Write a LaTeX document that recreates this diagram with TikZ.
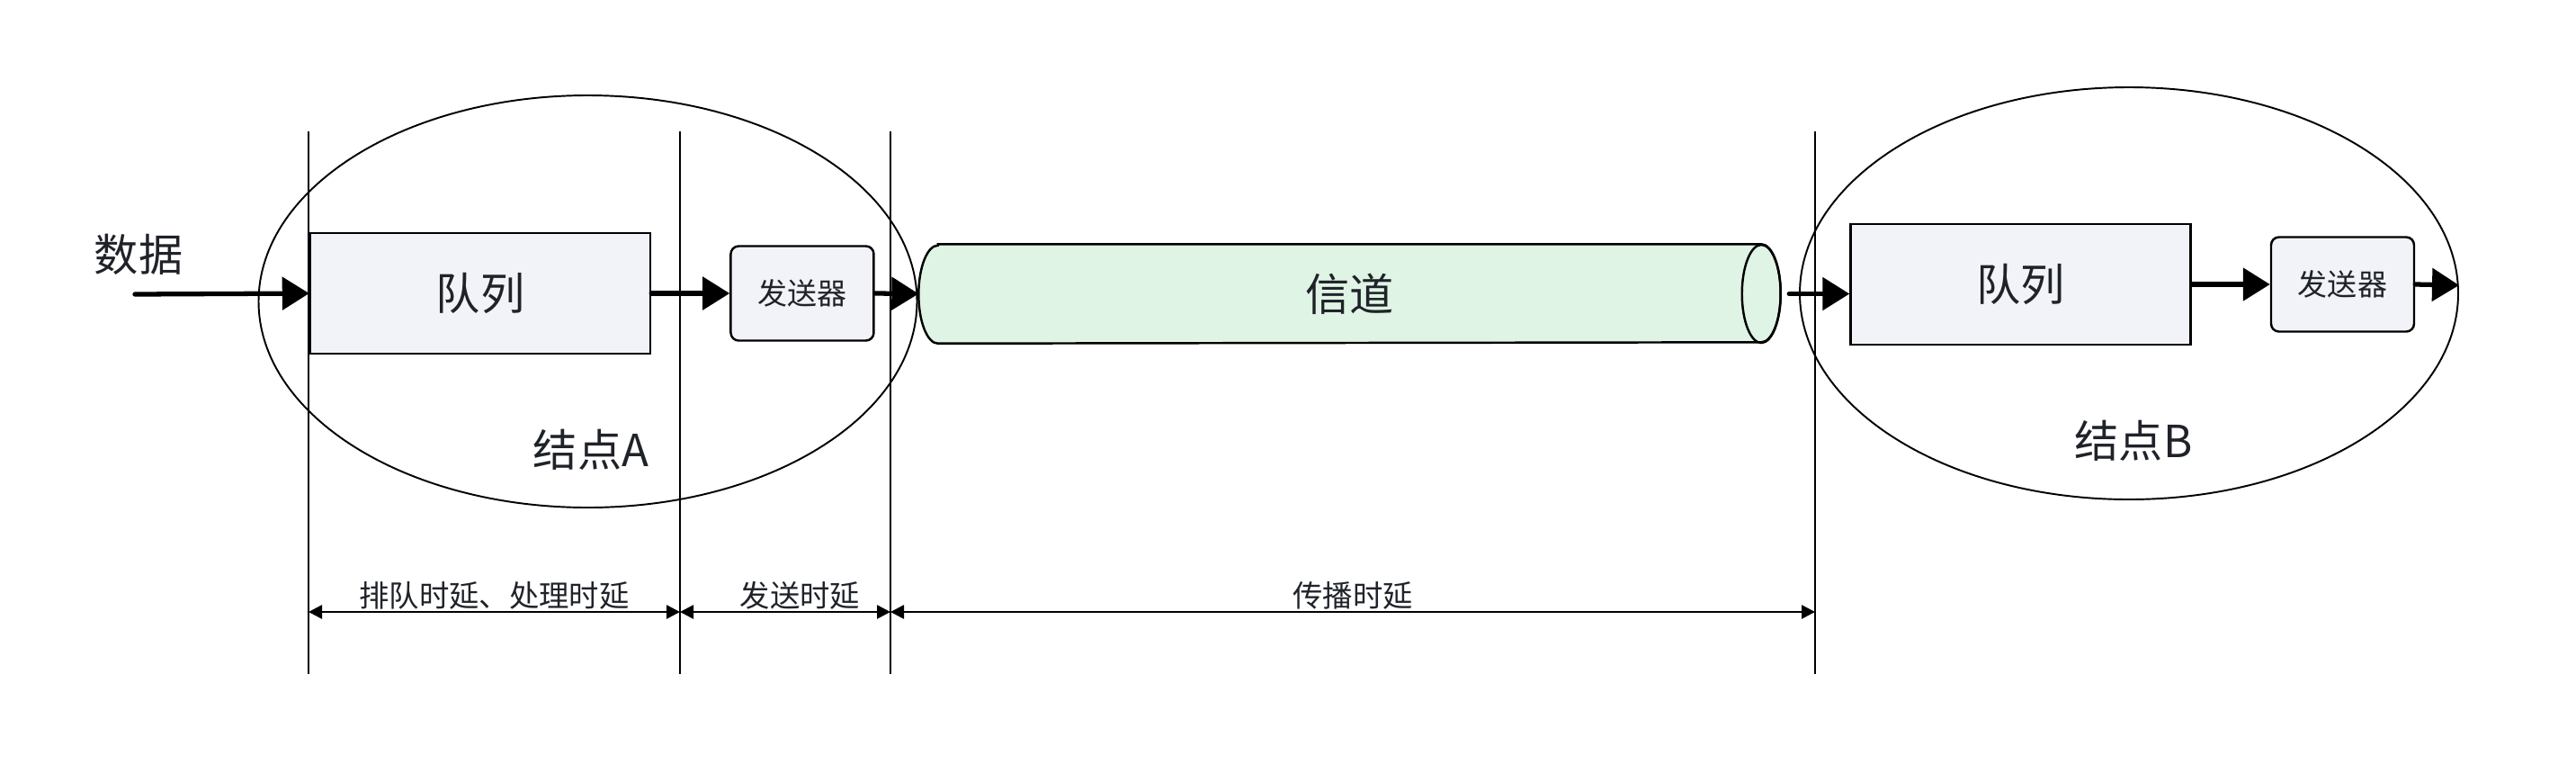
\documentclass[tikz,border=0pt]{standalone}
\usepackage{fontspec}
\setmainfont{Noto Sans CJK SC}
\usetikzlibrary{arrows.meta, positioning, shapes.geometric, backgrounds, calc}
\definecolor{txtgray}{HTML}{1F2329}
\definecolor{queuefill}{HTML}{F2F3F8}
\definecolor{chanfill}{HTML}{DFF4E4}

\begin{document}
\begin{tikzpicture}[
    every node/.style={font=\fontsize{14pt}{16pt}\selectfont, text=txtgray},
    queue/.style={rectangle, draw=black, fill=queuefill, line width=0.7pt,
                  minimum width=3.78cm, minimum height=1.34cm},
    sender/.style={rectangle, draw=black, fill=queuefill, rounded corners=2.5pt, line width=0.7pt,
                  minimum width=1.59cm, minimum height=1.05cm, font=\fontsize{9.4pt}{11pt}\selectfont},
    ring/.style={ellipse, draw=black, line width=0.55pt, minimum width=7.32cm, minimum height=4.58cm},
    divline/.style={draw=black, line width=0.5pt},
    arr/.style={-{Triangle[length=0.3cm, width=0.36cm]}, line width=1.5pt, line cap=round},
    dimarr/.style={{Triangle[length=0.15cm, width=0.15cm]}-{Triangle[length=0.15cm, width=0.15cm]}, line width=0.75pt},
    dimlabel/.style={font=\fontsize{9.5pt}{11pt}\selectfont, above, inner sep=0.5pt},
]
\useasboundingbox (0,0) rectangle (28.64,-8.48);

% node A
\node[queue] (qA) at (5.34,-3.26) {队列};
\node[sender, right=0.87cm of qA] (sA) {发送器};

% channel
\node[minimum width=9.14cm, minimum height=1.09cm, inner sep=0pt] (chan) at (15.005,-3.265) {};
\begin{scope}[on background layer]
    \draw[fill=chanfill, line width=0.7pt] (chan.north west) -- (chan.north east)
        arc[start angle=90, end angle=-90, x radius=0.215, y radius=0.545]
        -- (chan.south west)
        arc[start angle=270, end angle=90, x radius=0.215, y radius=0.545] -- cycle;
\end{scope}
\draw[line width=0.7pt] (chan.east) ellipse[x radius=0.215, y radius=0.545];
\node at (chan.center) {信道};

% node B
\node[queue] (qB) at (22.465,-3.16) {队列};
\node[sender, right=0.87cm of qB] (sB) {发送器};

\node (data) at (1.54,-2.83) {数据};
\node (labelA) at (6.57,-5.00) {结点A};
\node (labelB) at (23.72,-4.90) {结点B};

\coordinate (datain) at (1.50,-3.27);
\coordinate (chanin) at ($(chan.west)+(-0.215,0)$);
\coordinate (chanout) at ($(chan.east)+(0.31,0)$);
\coordinate (outB) at (27.34,-3.17);

\draw[arr] (datain) -- (qA.west);
\draw[arr] (qA.east) -- (sA.west);
\draw[arr] (sA.east) -- (chanin);
\draw[arr] (chanout) -- (chanout -| qB.west);
\draw[arr] (qB.east) -- (sB.west);
\draw[arr] (sB.east) -- (outB);

% delay boundaries
\foreach \x [count=\i] in {3.43,7.56,9.90,20.18} {
    \coordinate (top\i) at (\x,-1.46);
    \coordinate (bot\i) at (\x,-7.49);
    \coordinate (dim\i) at (\x,-6.80);
    \draw[divline] (top\i) -- (bot\i);
}

\draw[dimarr] (dim1) -- node[dimlabel]{排队时延、处理时延} (dim2);
\draw[dimarr] (dim2) -- node[dimlabel, pos=0.57]{发送时延} (dim3);
\draw[dimarr] (dim3) -- node[dimlabel]{传播时延} (dim4);

\begin{scope}[on background layer]
    \node[ring] (ringA) at (6.535,-3.35) {};
    \node[ring] (ringB) at (23.67,-3.26) {};
\end{scope}

\end{tikzpicture}
\end{document}
